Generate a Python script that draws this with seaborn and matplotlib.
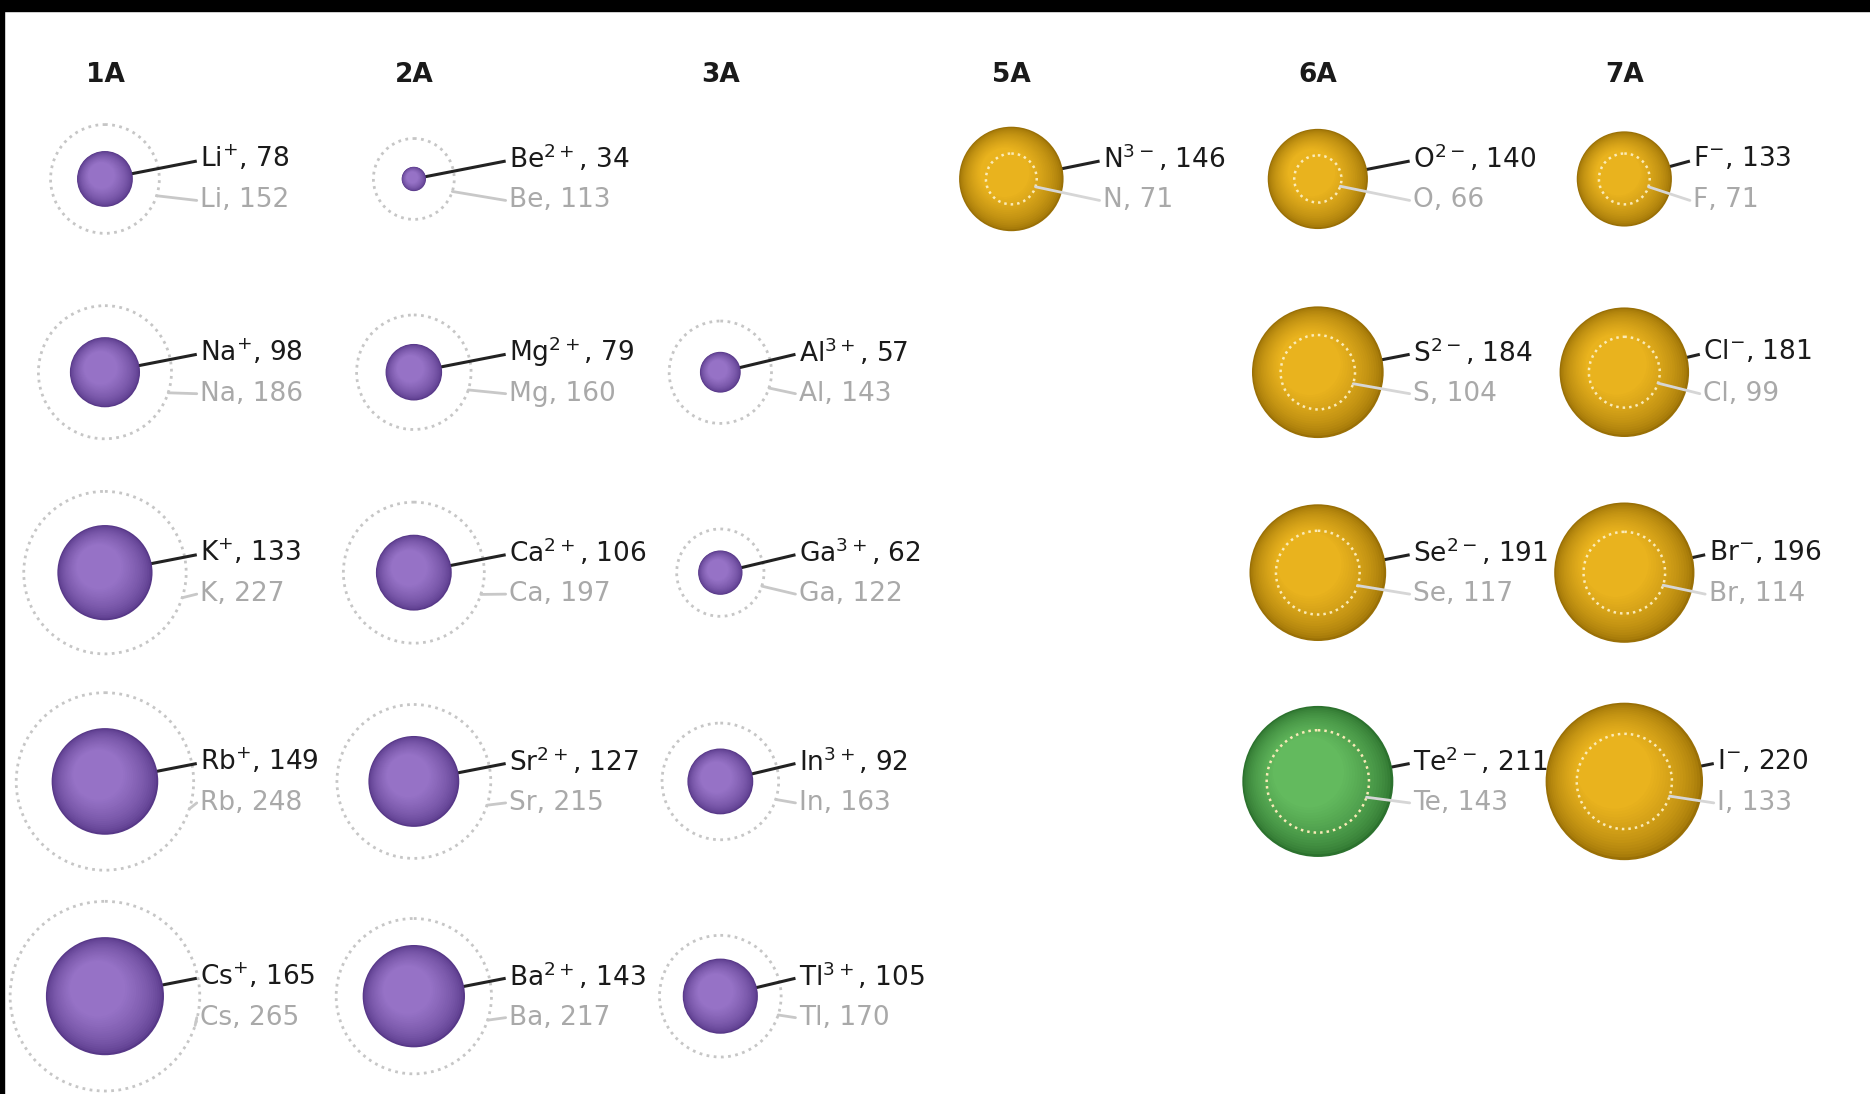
import numpy as np
import matplotlib
matplotlib.use("Agg")
import matplotlib.pyplot as plt
from matplotlib.patches import Circle, Rectangle
from matplotlib.colors import to_rgb
import seaborn as sns

# Ionic vs atomic radii (pm), main-group elements
groups = ["1A", "2A", "3A", "5A", "6A", "7A"]
symbols = ["Li", "Na", "K", "Rb", "Cs",
           "Be", "Mg", "Ca", "Sr", "Ba",
           "Al", "Ga", "In", "Tl",
           "N",
           "O", "S", "Se", "Te",
           "F", "Cl", "Br", "I"]
group_of = ["1A"] * 5 + ["2A"] * 5 + ["3A"] * 4 + ["5A"] + ["6A"] * 4 + ["7A"] * 4
period_of = [2, 3, 4, 5, 6,
             2, 3, 4, 5, 6,
             3, 4, 5, 6,
             2,
             2, 3, 4, 5,
             2, 3, 4, 5]
charges = ["+"] * 5 + ["2+"] * 5 + ["3+"] * 4 + ["3-"] + ["2-"] * 4 + ["-"] * 4
ion_radius = [78, 98, 133, 149, 165,
              34, 79, 106, 127, 143,
              57, 62, 92, 105,
              146,
              140, 184, 191, 211,
              133, 181, 196, 220]
atom_radius = [152, 186, 227, 248, 265,
               113, 160, 197, 215, 217,
               143, 122, 163, 170,
               71,
               66, 104, 117, 143,
               71, 99, 114, 133]
metalloids = ["Te"]

# layout (drawing units = reference pixels at 1568 wide)
col_x = {"1A": 88, "2A": 347, "3A": 604, "5A": 848, "6A": 1105, "7A": 1362}
text_x = {"1A": 168, "2A": 427, "3A": 670, "5A": 925, "6A": 1185, "7A": 1420}
row_y = {2: 150, 3: 312, 4: 480, 5: 655, 6: 835}
header_y = 63
scale = 0.30  # drawing units per pm

palette = {
    "cation": ("#573888", "#9672C6"),
    "anion": ("#9A7006", "#E9B31E"),
    "metalloid": ("#2C722E", "#63BA5E"),
}

sns.set_theme(style="white")
plt.rcParams["font.family"] = ["DejaVu Sans"]
plt.rcParams["mathtext.fontset"] = "dejavusans"

fig = plt.figure(figsize=(18.7, 10.94), dpi=100)
ax = fig.add_axes([0, 0, 1, 1])
ax.set_xlim(0, 1568)
ax.set_ylim(917, 0)
ax.axis("off")


def sphere(cx, cy, r, dark, light, z):
    d, l = np.array(to_rgb(dark)), np.array(to_rgb(light))
    n = 30
    for i in range(n):
        t = i / (n - 1)
        rad = r * (1 - 0.85 * t)
        off = 0.2 * r * t
        c = d + (l - d) * min(1.0, (t * 1.6) ** 0.6)
        ax.add_patch(Circle((cx - off, cy - off), rad, color=c, lw=0, zorder=z))


for g in groups:
    ax.text(col_x[g], header_y, g, fontsize=19, fontweight="bold",
            color="#1a1a1a", ha="center", va="center")

for sym, g, p, ch, ri, ra in zip(symbols, group_of, period_of, charges,
                                 ion_radius, atom_radius):
    cx, cy = col_x[g], row_y[p]
    r_ion, r_atom = ri * scale, ra * scale
    is_anion = "-" in ch
    kind = "metalloid" if sym in metalloids else ("anion" if is_anion else "cation")
    dark, light = palette[kind]
    tx = max(text_x[g], cx + r_ion + 12) if is_anion else text_x[g]

    y_ion, y_atom = cy - 17, cy + 18
    # leader to ion label
    ax.plot([cx, tx - 3], [cy, y_ion + 2], color="#222222", lw=2.2, zorder=2,
            solid_capstyle="butt")
    sphere(cx, cy, r_ion, dark, light, 3)

    ang = np.deg2rad(18)
    px, py = cx + r_atom * np.cos(ang), cy + r_atom * np.sin(ang)
    if is_anion:
        ax.add_patch(Circle((cx, cy), r_atom, fill=False, ec="#FBEBB8", lw=1.8,
                            ls=(0, (1, 1.6)), zorder=5))
        ax.plot([px, tx - 3], [py, y_atom], color="#D6D6D6", lw=2, zorder=5)
    else:
        ax.add_patch(Circle((cx, cy), r_atom, fill=False, ec="#C6C6C6", lw=2,
                            ls=(0, (1, 1.6)), zorder=1))
        ax.plot([px, tx - 3], [py, y_atom], color="#C8C8C8", lw=2, zorder=1)

    label = sym + "$^{" + ch + "}$, " + str(ri)
    ax.text(tx, y_ion, label, fontsize=19, color="#1a1a1a",
            ha="left", va="center", zorder=6)
    ax.text(tx, y_atom, f"{sym}, {ra}", fontsize=19, color="#A9A9A9",
            ha="left", va="center", zorder=6)

# black frame edges of the scanned figure
fig.patches.append(Rectangle((0, 1 - 11 / 1094), 1, 11 / 1094,
                             transform=fig.transFigure, color="black", zorder=10))
fig.patches.append(Rectangle((0, 0), 4 / 1870, 1, transform=fig.transFigure,
                             color="black", zorder=10))

fig.savefig("out.png", dpi=100, facecolor="white")
